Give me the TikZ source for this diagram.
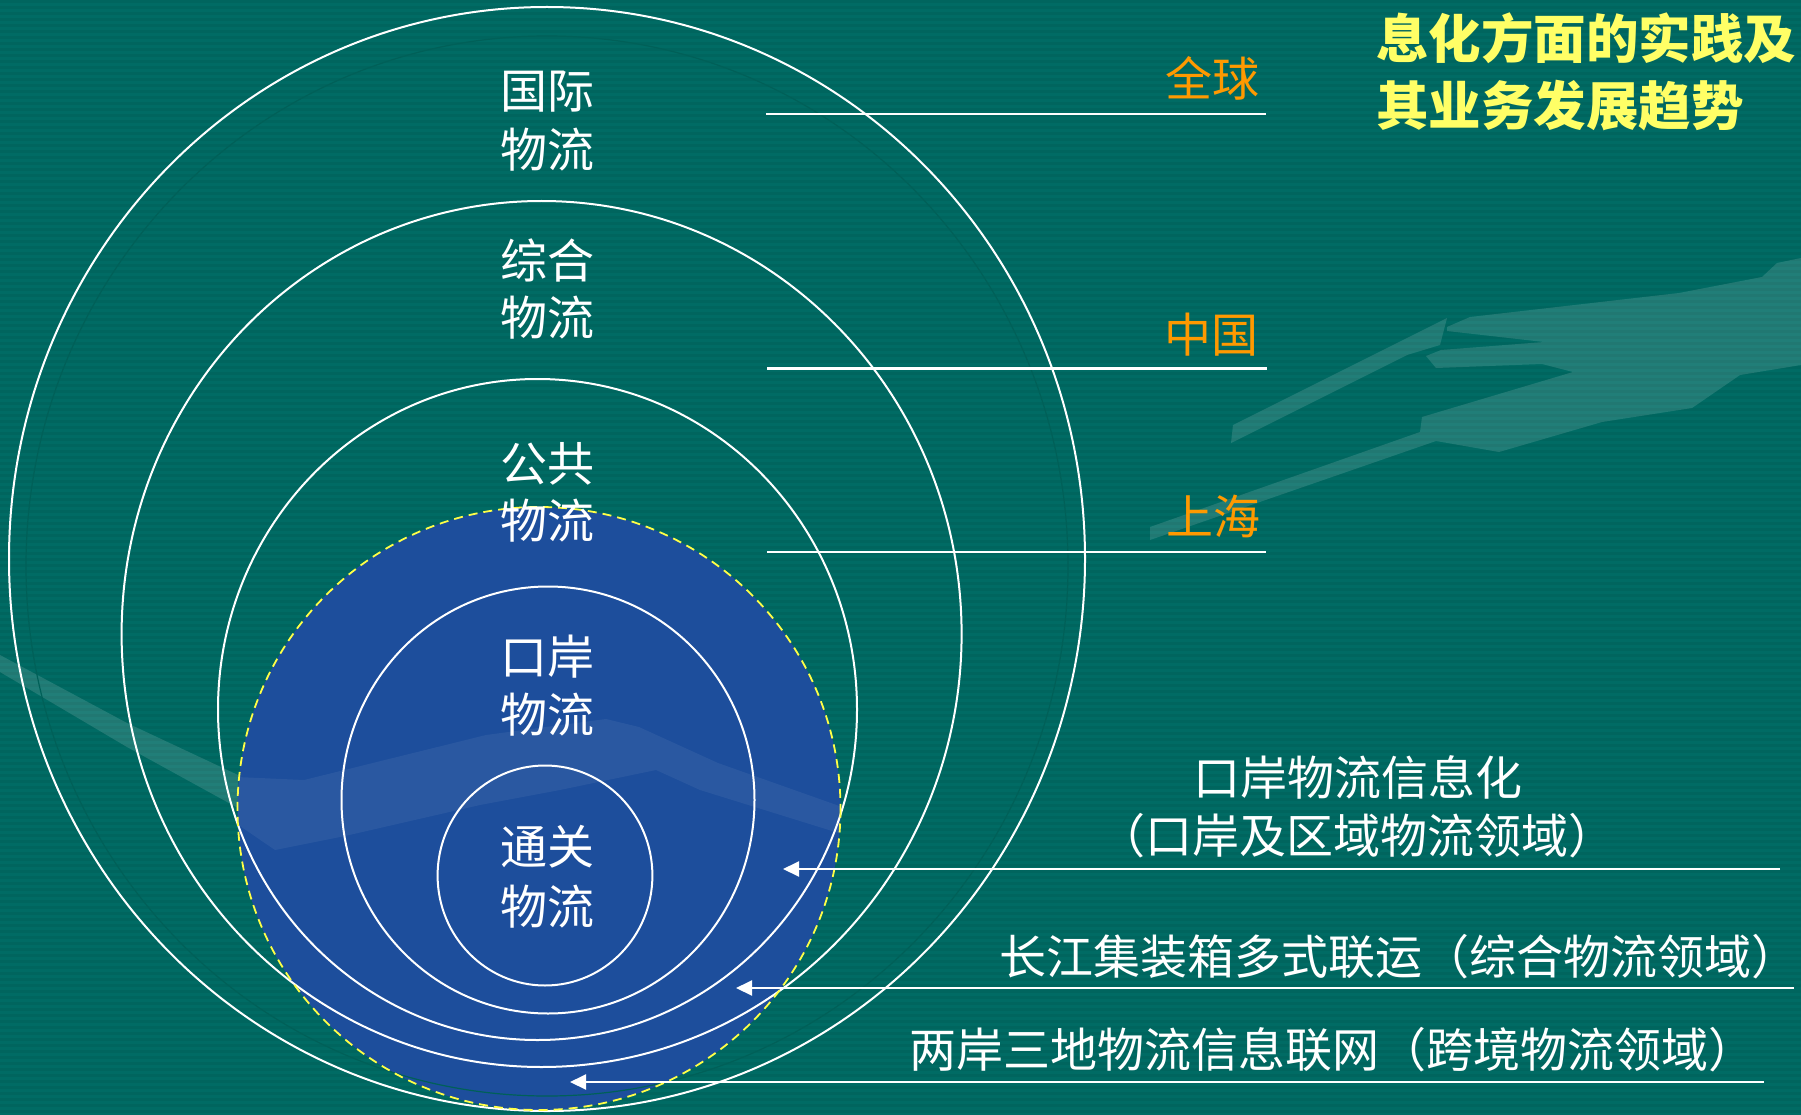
\documentclass[tikz,border=0pt]{standalone}
\usepackage{fontspec}
\setmainfont{Noto Sans CJK SC}
\usetikzlibrary{arrows.meta}
\definecolor{bgteal}{RGB}{0,107,100}
\definecolor{stripecol}{RGB}{0,94,88}
\definecolor{circblue}{RGB}{29,78,156}
\definecolor{ringdark}{RGB}{0,96,88}
\definecolor{lorange}{RGB}{255,153,0}
\definecolor{tyellow}{RGB}{255,255,102}
\definecolor{dashyellow}{RGB}{255,255,70}
\begin{document}
\begin{tikzpicture}[x=1pt,y=-1pt,
  ring/.style={draw=white, line width=2pt},
  lblline/.style={draw=white, line width=2.5pt},
  arr/.style={draw=white, line width=2pt, -{Triangle[length=16pt,width=15pt]}},
  cl/.style={text=white, font=\fontsize{47}{56}\selectfont, anchor=base, inner sep=0pt},
  ol/.style={text=lorange, font=\fontsize{47}{56}\selectfont, anchor=base east, inner sep=0pt},
  rl/.style={text=white, font=\fontsize{47}{56}\selectfont, inner sep=0pt},
  tl/.style={text=tyellow, font=\bfseries\fontsize{52.5}{60}\selectfont, anchor=base west, inner sep=0pt},
  sw/.style={fill=white, fill opacity=0.13}]
\useasboundingbox (0,0) rectangle (1801,1115);
% background
\fill[bgteal] (0,0) rectangle (1801,1115);
\foreach \i in {0,...,185} \fill[stripecol, opacity=0.45] (0,{\i*6}) rectangle (1801,{\i*6+3});
% decorative swooshes
\fill[sw] (1801,258) -- (1777,263) -- (1762,277) -- (1679,293) -- (1470,317) -- (1447,327) -- (1447,331) -- (1544,342) -- (1441,350) -- (1426,356) -- (1436,368) -- (1542,364) -- (1573,372) -- (1422,417) -- (1420,432) -- (1150,527) -- (1150,540) -- (1436,441) -- (1499,452) -- (1602,422) -- (1692,408) -- (1740,375) -- (1801,365) -- cycle;
\fill[sw] (1447,318) -- (1233,425) -- (1231,443) -- (1407,355) -- (1440,345) -- cycle;
\fill[sw] (0,655) -- (127,723) -- (238,775) -- (238,808) -- (127,747) -- (0,672) -- cycle;
% blue circle
\fill[circblue] (539,808.5) ellipse [x radius=301.5, y radius=301.5];
\begin{scope}
  \clip (539,808.5) ellipse [x radius=301.5, y radius=301.5];
  \fill[fill=white, fill opacity=0.06] (237,777) -- (304,780) -- (486,735) -- (606,719) -- (639,727) -- (718,763) -- (845,808) -- (845,835) -- (700,790) -- (656,770) -- (560,790) -- (480,805) -- (345,836) -- (275,850) -- (237,824) -- cycle;
\end{scope}
% faint dark ring
\draw[ringdark, line width=1.2pt] (547,566) ellipse [x radius=521, y radius=530];
% white rings
\draw[ring] (547,559) ellipse [x radius=538, y radius=552];
\draw[ring] (541.6,634) ellipse [x radius=420, y radius=433];
\draw[ring] (537.5,709.5) ellipse [x radius=319.5, y radius=330.5];
\draw[ring] (548,800) ellipse [x radius=206.5, y radius=213.5];
\draw[ring] (545,875.5) ellipse [x radius=107.4, y radius=110];
% dashed border
\draw[dashyellow, line width=1.8pt, dash pattern=on 9pt off 6pt] (539,808.5) ellipse [x radius=301.5, y radius=301.5];
% level lines
\coordinate (g1) at (766,114); \coordinate (g2) at (1266,114);
\coordinate (c1) at (767,368.5); \coordinate (c2) at (1267,368.5);
\coordinate (s1) at (767,552); \coordinate (s2) at (1266,552);
\draw[lblline] (g1) -- (g2);
\draw[lblline] (c1) -- (c2);
\draw[lblline] (s1) -- (s2);
% arrows
\coordinate (a1s) at (1780,869); \coordinate (a1t) at (783,869);
\coordinate (a2s) at (1794,988); \coordinate (a2t) at (736,988);
\coordinate (a3s) at (1764,1082); \coordinate (a3t) at (570,1082);
\draw[arr] (a1s) -- (a1t);
\draw[arr] (a2s) -- (a2t);
\draw[arr] (a3s) -- (a3t);
% circle labels
\node[cl] (t1a) at (547,108.5) {国际};
\node[cl] (t1b) at (547,167.5) {物流};
\node[cl] (t2a) at (547,279) {综合};
\node[cl] (t2b) at (547,335.5) {物流};
\node[cl] (t3a) at (547,481) {公共};
\node[cl] (t3b) at (547,538) {物流};
\node[cl] (t4a) at (547,674.5) {口岸};
\node[cl] (t4b) at (547,732.5) {物流};
\node[cl] (t5a) at (547,864.5) {通关};
\node[cl] (t5b) at (547,924.5) {物流};
% orange labels
\node[ol] (qq) at (1260,97) {全球};
\node[ol] (zg) at (1259,352.5) {中国};
\node[ol] (sh) at (1261,534) {上海};
% right labels
\node[rl, anchor=base] (r1a) at (1358,795.5) {口岸物流信息化};
\node[rl, anchor=base] (r1b) at (1356.5,853) {（口岸及区域物流领域）};
\node[rl, anchor=base east] (r2) at (1799,974) {长江集装箱多式联运（综合物流领域）};
\node[rl, anchor=base west] (r3) at (909,1067) {两岸三地物流信息联网（跨境物流领域）};
% title
\node[tl] (ti2) at (1376,59) {息化方面的实践及};
\node[tl] (ti3) at (1376,125.5) {其业务发展趋势};
\end{tikzpicture}
\end{document}
